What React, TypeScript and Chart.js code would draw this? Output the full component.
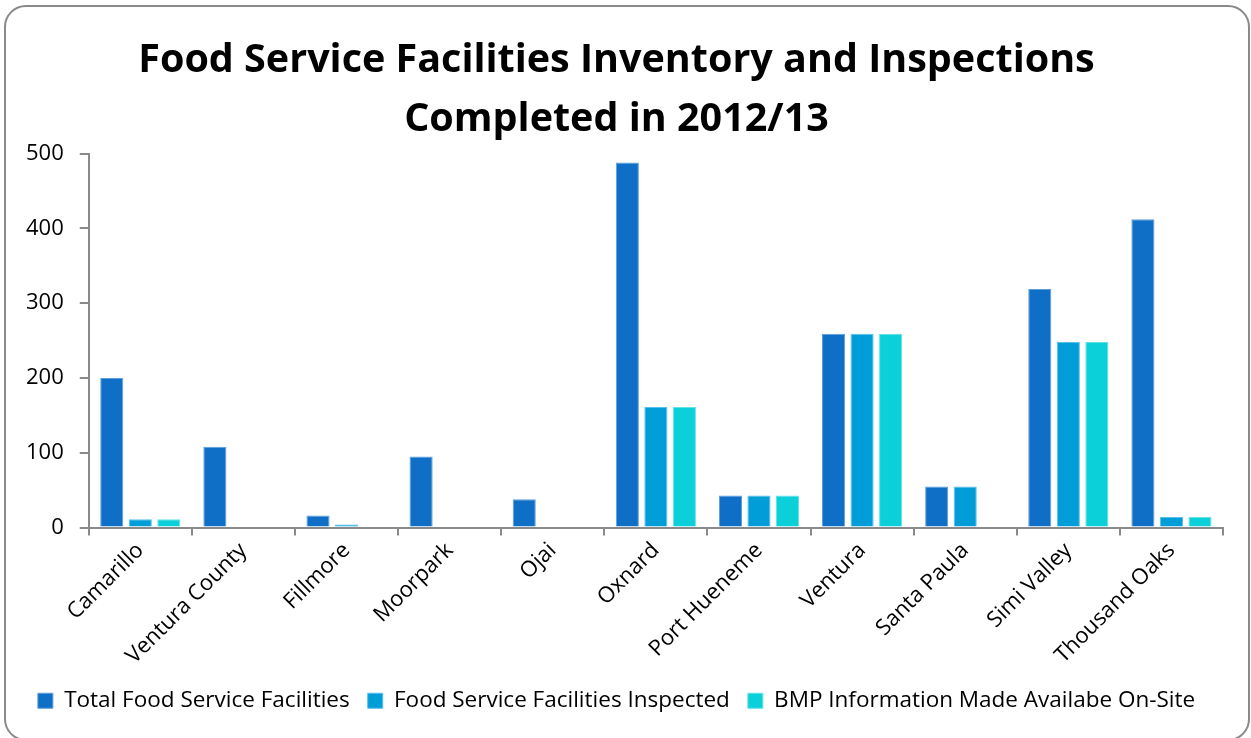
import React, { useEffect, useRef } from "react";
import { Chart, registerables } from "chart.js";

Chart.register(...registerables);

const categories = [
  "Camarillo",
  "Ventura County",
  "Fillmore",
  "Moorpark",
  "Ojai",
  "Oxnard",
  "Port Hueneme",
  "Ventura",
  "Santa Paula",
  "Simi Valley",
  "Thousand Oaks",
];

const totalFacilities = [200, 108, 16, 95, 38, 488, 43, 259, 55, 319, 412];
const facilitiesInspected = [11, 0, 4, 0, 0, 161, 43, 259, 55, 248, 14];
const bmpInfo = [11, 0, 0, 0, 0, 161, 43, 259, 0, 248, 14];

const seriesLabels = [
  "Total Food Service Facilities",
  "Food Service Facilities Inspected",
  "BMP Information Made Availabe On-Site",
];

const titleLines = ["Food Service Facilities Inventory and Inspections", "Completed in 2012/13"];

const yTicks = [0, 100, 200, 300, 400, 500];

export default function App() {
  const canvasRef = useRef<HTMLCanvasElement | null>(null);

  useEffect(() => {
    const canvas = canvasRef.current;
    if (!canvas) return;
    const font = "'Open Sans', 'Noto Sans', sans-serif";
    const chart = new Chart(canvas, {
      type: "bar",
      data: {
        labels: categories,
        datasets: [
          {
            label: seriesLabels[0],
            data: totalFacilities,
            backgroundColor: "#0F6FC6",
            borderColor: "#5C9EDB",
            borderWidth: 1,
          },
          {
            label: seriesLabels[1],
            data: facilitiesInspected,
            backgroundColor: "#009DD9",
            borderColor: "#55C0EA",
            borderWidth: 1,
          },
          {
            label: seriesLabels[2],
            data: bmpInfo,
            backgroundColor: "#0BD0D9",
            borderColor: "#60E2E8",
            borderWidth: 1,
          },
        ],
      },
      options: {
        responsive: false,
        animation: false,
        layout: { padding: { left: 10, right: 28, top: 0, bottom: 16 } },
        datasets: {
          bar: { categoryPercentage: 0.83, barPercentage: 0.81 },
        },
        plugins: {
          title: {
            display: true,
            text: titleLines,
            color: "#000",
            font: { family: font, size: 39.5, weight: "bold", lineHeight: 1.5 },
            padding: { top: 31, bottom: 4 },
          },
          legend: {
            position: "bottom",
            labels: {
              color: "#000",
              font: { family: font, size: 22.5 },
              boxWidth: 15,
              boxHeight: 15,
              padding: 18,
            },
          },
          tooltip: { enabled: false },
        },
        scales: {
          x: {
            offset: true,
            grid: {
              display: true,
              drawOnChartArea: false,
              drawTicks: true,
              tickLength: 8,
              color: "#8a8a8a",
              lineWidth: 2,
              offset: true,
            },
            border: { color: "#8a8a8a", width: 2 },
            ticks: {
              color: "#000",
              font: { family: font, size: 22 },
              maxRotation: 45,
              minRotation: 45,
              padding: 2,
              autoSkip: false,
            },
          },
          y: {
            min: 0,
            max: 500,
            afterBuildTicks: (axis: any) => {
              axis.ticks = yTicks.map((v) => ({ value: v }));
            },
            grid: {
              display: true,
              drawOnChartArea: false,
              drawTicks: true,
              tickLength: 9,
              color: "#8a8a8a",
              lineWidth: 2,
            },
            border: { color: "#8a8a8a", width: 2 },
            ticks: {
              color: "#000",
              font: { family: font, size: 22 },
              padding: 16,
            },
          },
        },
      },
    });
    return () => chart.destroy();
  }, []);

  return (
    <div style={{ position: "fixed", left: 0, top: 0, width: 1251, height: 738, background: "#fff", overflow: "hidden" }}>
      <div
        style={{
          position: "absolute",
          left: 4,
          top: 5,
          width: 1246,
          height: 736,
          boxSizing: "border-box",
          border: "2px solid #8a8a8a",
          borderRadius: 22,
        }}
      />
      <canvas ref={canvasRef} width={1251} height={738} style={{ position: "absolute", left: 0, top: 0 }} />
    </div>
  );
}
